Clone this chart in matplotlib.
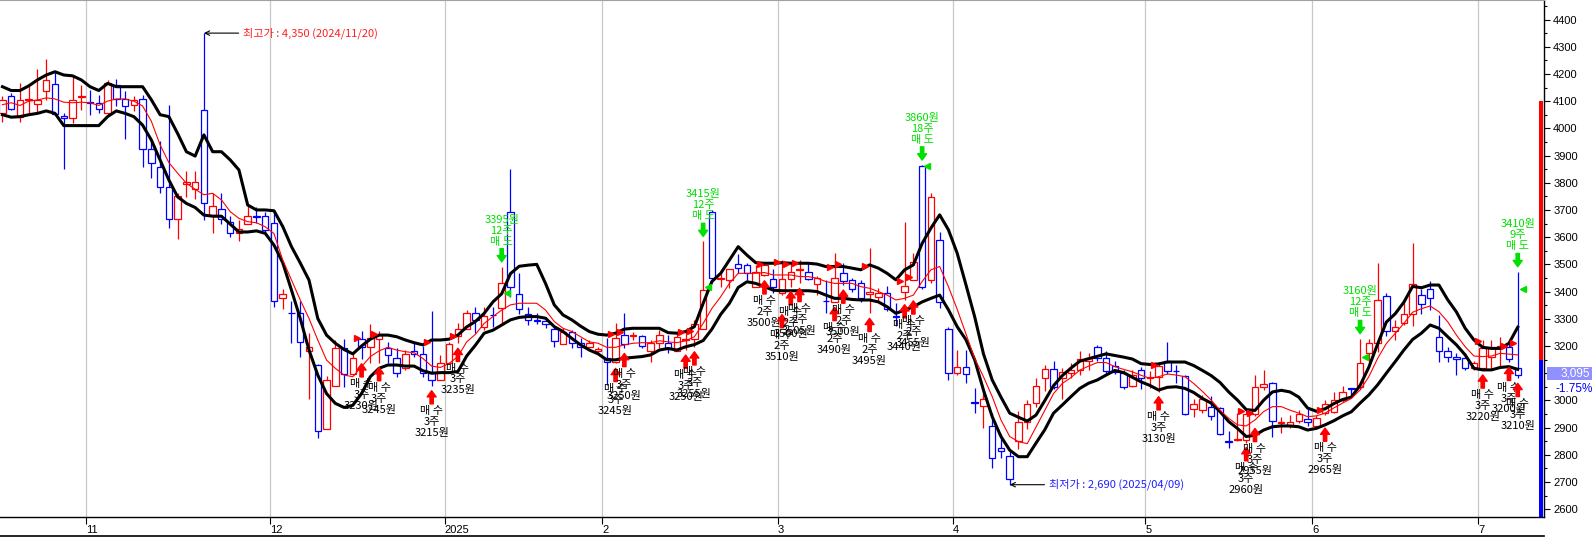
import matplotlib
matplotlib.use('Agg')
import matplotlib.pyplot as plt
from matplotlib.patches import Rectangle
from matplotlib.lines import Line2D
from matplotlib.transforms import offset_copy, blended_transform_factory

plt.rcParams['font.family'] = ['Noto Sans CJK KR', 'DejaVu Sans']

W, H = 1592, 537

# trading days shown per month: Oct 2024 (from 18th) .. Jul 2025 (to 7th)
month_days = [10, 21, 20, 18, 20, 20, 22, 19, 19, 5]
month_labels = ['11', '12', '2025', '2', '3', '4', '5', '6', '7']

opens = [
    4055, 4118, 4040, 4105, 4090, 4139, 4162, 4047, 4037, 4115,                     # Oct
    4096, 4093, 4056, 4160, 4108, 4084, 4108, 3923, 3856, 3785, 3668, 3794, 3776,   # Nov
    4069, 3681, 3702, 3655, 3614, 3648, 3677, 3676,
    3651, 3377, 3323, 3323, 3181, 3131, 2893, 3054, 3191, 3096, 3225, 3195, 3225,   # Dec
    3191, 3154, 3119, 3182, 3172, 3100, 3076,
    3136, 3237, 3262, 3323, 3268, 3315, 3339, 3694, 3390, 3316, 3294, 3292, 3262,   # Jan
    3206, 3252, 3212, 3197, 3182,
    3154, 3140, 3240, 3238, 3237, 3180, 3212, 3212, 3182, 3223, 3224, 3262, 3694,   # Feb
    3447, 3443, 3500, 3496, 3418, 3461, 3447,
    3394, 3447, 3479, 3473, 3427, 3366, 3363, 3467, 3443, 3433, 3390, 3381, 3394,   # Mar
    3309, 3400, 3443, 3861, 3443, 3591, 3264,
    3100, 3124, 2994, 2981, 2906, 2825, 2797, 2850, 2921, 2990, 3084, 3117, 3084,   # Apr
    3101, 3113, 3143, 3196, 3155, 3126, 3101, 3054, 3113,
    3083, 3086, 3143, 3109, 3091, 2968, 2964, 2977, 2971, 2849, 2855, 2855, 2950,   # May
    3048, 3063, 2916, 2904, 2926, 2931,
    2906, 2953, 2959, 3000, 3044, 3050, 3173, 3212, 3384, 3254, 3283, 3319, 3389,   # Jun
    3411, 3234, 3182, 3161, 3155, 3118,
    3118, 3161, 3191, 3195, 3118,                                                   # Jul
]
highs = [
    4118, 4130, 4166, 4155, 4217, 4255, 4209, 4055, 4196, 4160,
    4142, 4123, 4178, 4180, 4136, 4118, 4123, 3952, 3952, 4084, 3764, 3842, 3842,
    4350, 3762, 3762, 3677, 3663, 3715, 3710, 3694,
    3694, 3408, 3364, 3364, 3247, 3135, 3088, 3222, 3225, 3172, 3254, 3281, 3254,
    3215, 3191, 3185, 3215, 3200, 3328, 3166,
    3215, 3286, 3333, 3345, 3345, 3345, 3491, 3850, 3470, 3345, 3320, 3308, 3277,
    3265, 3258, 3229, 3222, 3197,
    3229, 3283, 3320, 3252, 3241, 3222, 3258, 3240, 3252, 3258, 3296, 3584, 3701,
    3467, 3483, 3537, 3504, 3496, 3508, 3482,
    3515, 3509, 3515, 3504, 3456, 3443, 3543, 3504, 3449, 3443, 3561, 3412, 3421,
    3358, 3657, 3541, 3865, 3761, 3620, 3268,
    3186, 3186, 3046, 3040, 2953, 2877, 2819, 2960, 3003, 3084, 3131, 3146, 3120,
    3136, 3182, 3173, 3205, 3180, 3143, 3113, 3113, 3123,
    3107, 3141, 3215, 3131, 3094, 3005, 3021, 3015, 2977, 2888, 2953, 2964, 3094,
    3113, 3068, 2940, 2946, 2966, 2977,
    2946, 3001, 3029, 3053, 3045, 3227, 3227, 3505, 3393, 3296, 3371, 3580, 3411,
    3438, 3314, 3197, 3173, 3173, 3145,
    3222, 3222, 3234, 3216, 3473,
]
lows = [
    4025, 4067, 4022, 4050, 4055, 4105, 4050, 3849, 4018, 4067,
    4050, 4056, 4050, 4081, 3960, 4062, 3858, 3817, 3764, 3632, 3595, 3746, 3742,
    3662, 3614, 3647, 3599, 3584, 3648, 3653, 3614,
    3345, 3336, 3210, 3158, 3004, 2860, 2893, 3054, 3050, 3092, 3153, 3136, 3139,
    3136, 3086, 3113, 3160, 3086, 3054, 3076,
    3136, 3210, 3262, 3249, 3258, 3271, 3277, 3380, 3316, 3277, 3280, 3265, 3197,
    3206, 3191, 3161, 3191, 3171,
    3057, 3136, 3191, 3222, 3194, 3142, 3191, 3173, 3182, 3185, 3197, 3262, 3438,
    3418, 3412, 3470, 3442, 3418, 3458, 3396,
    3389, 3418, 3430, 3443, 3387, 3320, 3360, 3424, 3400, 3363, 3320, 3363, 3327,
    3272, 3370, 3443, 3408, 3430, 3339, 3076,
    3095, 3063, 2955, 2898, 2750, 2788, 2690, 2821, 2896, 2976, 3036, 3040, 3006,
    3084, 3095, 3113, 3143, 3098, 3098, 3040, 3048, 3042,
    3045, 3032, 3098, 3064, 2946, 2938, 2952, 2928, 2872, 2825, 2850, 2845, 2941,
    3038, 2866, 2881, 2897, 2917, 2904,
    2902, 2946, 2953, 2994, 3014, 3043, 3136, 3178, 3235, 3222, 3278, 3273, 3319,
    3332, 3142, 3142, 3093, 3112, 3110,
    3112, 3112, 3124, 3140, 3081,
]
closes = [
    4105, 4070, 4105, 4108, 4104, 4179, 4052, 4037, 4105, 4118,
    4093, 4071, 4166, 4109, 4081, 4105, 3923, 3871, 3785, 3668, 3751, 3804, 3804,
    3724, 3716, 3665, 3614, 3629, 3677, 3674, 3627,
    3364, 3392, 3321, 3214, 3195, 2888, 3076, 3191, 3096, 3154, 3195, 3228, 3240,
    3168, 3100, 3172, 3170, 3100, 3076, 3139,
    3206, 3262, 3323, 3296, 3310, 3313, 3430, 3418, 3335, 3296, 3292, 3281, 3219,
    3252, 3212, 3197, 3210, 3189,
    3140, 3229, 3206, 3241, 3200, 3212, 3240, 3190, 3234, 3226, 3281, 3405, 3449,
    3450, 3483, 3486, 3467, 3473, 3496, 3415,
    3447, 3473, 3482, 3447, 3449, 3364, 3449, 3439, 3409, 3378, 3400, 3396, 3335,
    3307, 3421, 3509, 3415, 3746, 3362, 3100,
    3124, 3096, 2991, 3006, 2788, 2815, 2711, 2921, 2987, 3054, 3117, 3048, 3103,
    3113, 3151, 3155, 3155, 3107, 3103, 3048, 3095, 3084,
    3086, 3127, 3107, 3107, 2950, 2987, 3005, 2944, 2878, 2847, 2857, 2950, 3048,
    3059, 2926, 2922, 2922, 2949, 2920,
    2935, 2987, 3001, 3032, 3042, 3139, 3212, 3370, 3254, 3268, 3319, 3427, 3356,
    3375, 3182, 3158, 3153, 3118, 3136,
    3191, 3191, 3200, 3152, 3095,
]

# envelope lines (upper / lower black, middle red)
upper = [
    4153, 4139, 4139, 4156, 4178, 4196, 4208, 4196, 4193, 4178,
    4153, 4139, 4165, 4153, 4153, 4153, 4153, 4105, 4050, 4043, 3981, 3914, 3898,
    3976, 3914, 3914, 3884, 3847, 3718, 3700, 3700,
    3697, 3639, 3565, 3505, 3442, 3301, 3240, 3210, 3187, 3171, 3200, 3225, 3240,
    3240, 3234, 3222, 3212, 3204, 3222, 3222,
    3225, 3240, 3270, 3290, 3320, 3362, 3392, 3466, 3493, 3497, 3500, 3430, 3351,
    3314, 3296, 3273, 3253, 3243,
    3240, 3247, 3262, 3265, 3265, 3265, 3265, 3249, 3247, 3253, 3271, 3357, 3437,
    3467, 3516, 3565, 3534, 3506, 3504, 3504,
    3506, 3504, 3504, 3504, 3501, 3492, 3492, 3492, 3486, 3480, 3498, 3486, 3467,
    3443, 3480, 3498, 3577, 3633, 3682, 3627,
    3541, 3425, 3307, 3171, 3075, 3012, 2953, 2938, 2924, 2946, 2999, 3054, 3091,
    3119, 3144, 3153, 3162, 3171, 3165, 3159, 3152, 3135,
    3132, 3134, 3141, 3141, 3141, 3128, 3110, 3091, 3066, 3031, 3001, 2966, 2963,
    3001, 3031, 3037, 3031, 3012, 2972,
    2960, 2969, 2988, 3003, 3012, 3055, 3122, 3207, 3288, 3318, 3361, 3419, 3414,
    3424, 3424, 3370, 3325, 3265, 3222,
    3195, 3191, 3191, 3210, 3269,
]
lower = [
    4050, 4041, 4043, 4050, 4055, 4064, 4055, 4010, 4010, 4010,
    4010, 4010, 4043, 4064, 4055, 4043, 4012, 3957, 3884, 3810, 3748, 3724, 3709,
    3681, 3677, 3677, 3648, 3619, 3619, 3623, 3614,
    3571, 3506, 3405, 3301, 3185, 3093, 3025, 2989, 2974, 2982, 3025, 3087, 3118,
    3130, 3130, 3126, 3126, 3109, 3100, 3102,
    3102, 3106, 3163, 3203, 3247, 3258, 3277, 3296, 3305, 3308, 3308, 3302, 3271,
    3253, 3228, 3204, 3185, 3171,
    3149, 3149, 3155, 3158, 3161, 3167, 3185, 3191, 3185, 3197, 3205, 3220, 3262,
    3316, 3357, 3415, 3436, 3430, 3418, 3405,
    3403, 3403, 3403, 3403, 3400, 3387, 3375, 3375, 3371, 3369, 3369, 3362, 3344,
    3320, 3332, 3344, 3362, 3375, 3387, 3333,
    3271, 3223, 3149, 3038, 2940, 2867, 2817, 2793, 2793, 2843, 2892, 2953, 2983,
    3014, 3044, 3063, 3075, 3093, 3110, 3102, 3085, 3068,
    3055, 3038, 3048, 3050, 3044, 3029, 3007, 2990, 2959, 2922, 2897, 2867, 2872,
    2891, 2903, 2906, 2906, 2903, 2891,
    2897, 2910, 2925, 2943, 2958, 2990, 3020, 3057, 3100, 3142, 3185, 3224, 3247,
    3277, 3265, 3234, 3204, 3167, 3118,
    3112, 3112, 3121, 3124, 3114,
]
middle = [
    4087, 4094, 4084, 4100, 4104, 4112, 4108, 4096, 4094, 4096,
    4094, 4084, 4100, 4108, 4108, 4100, 4082, 4026, 3939, 3874, 3835, 3798, 3776,
    3756, 3761, 3737, 3694, 3669, 3657, 3653, 3638,
    3613, 3516, 3442, 3369, 3301, 3222, 3148, 3118, 3093, 3087, 3124, 3161, 3182,
    3195, 3185, 3179, 3175, 3154, 3126, 3121,
    3136, 3161, 3215, 3243, 3283, 3308, 3332, 3351, 3357, 3357, 3357, 3332, 3290,
    3265, 3253, 3234, 3215, 3210,
    3195, 3195, 3204, 3210, 3212, 3212, 3219, 3215, 3212, 3219, 3234, 3283, 3338,
    3381, 3430, 3467, 3467, 3467, 3470, 3461,
    3461, 3461, 3455, 3455, 3449, 3437, 3430, 3430, 3430, 3418, 3412, 3400, 3387,
    3369, 3375, 3387, 3437, 3480, 3492, 3418,
    3335, 3245, 3154, 3087, 3014, 2928, 2867, 2848, 2841, 2902, 2963, 3025, 3062,
    3084, 3111, 3126, 3139, 3139, 3124, 3114, 3105, 3092,
    3081, 3087, 3097, 3093, 3087, 3062, 3033, 3001, 2964, 2934, 2910, 2906, 2928,
    2959, 2977, 2977, 2964, 2953, 2940,
    2943, 2953, 2972, 2990, 3007, 3038, 3087, 3154, 3209, 3246, 3283, 3324, 3337,
    3347, 3326, 3289, 3240, 3197, 3163,
    3161, 3163, 3173, 3170, 3167,
]

# trade signals: (candle index, shares, price)
buys = [(41, 3, 3230), (43, 3, 3245), (49, 3, 3215), (52, 3, 3235),
        (70, 3, 3245), (71, 3, 3250), (78, 3, 3250), (79, 3, 3255),
        (87, 2, 3500), (89, 2, 3510), (90, 2, 3500), (91, 2, 3505),
        (95, 2, 3490), (96, 2, 3500), (99, 2, 3495), (103, 2, 3440),
        (104, 2, 3455), (132, 3, 3130), (142, 3, 2960), (143, 3, 2955),
        (151, 3, 2965), (169, 3, 3220), (172, 3, 3200), (173, 3, 3210)]
sells = [(57, 12, 3395), (80, 12, 3415), (105, 18, 3860), (155, 12, 3160),
         (173, 9, 3410)]

n = len(opens)
assert n == len(highs) == len(lows) == len(closes) == len(upper) == len(lower) == len(middle)

RED = '#ff0000'
BLUE = '#0000ff'
GREEN = '#00e000'

fig = plt.figure(figsize=(W / 100, H / 100), dpi=100)
ax = fig.add_axes([0, 20 / H, 1543.5 / W, 517 / H])
ax.set_xlim(-0.28, 175.94)
ax.set_ylim(2571.3, 4471.7)

# month separators
starts = []
s = 0
for d in month_days[:-1]:
    s += d
    starts.append(s - 0.5)
for x in starts:
    ax.axvline(x, color='#c8c8c8', lw=0.9, zorder=0)

# candles (hollow)
w = 0.74
for i in range(n):
    o, h, l, c = opens[i], highs[i], lows[i], closes[i]
    col = RED if c > o else BLUE
    ax.vlines(i, l, h, color=col, lw=0.9, zorder=2)
    ax.add_patch(Rectangle((i - w / 2, min(o, c)), w, max(abs(c - o), 1.5),
                           facecolor='white', edgecolor=col, lw=0.9, zorder=3))

xs = list(range(n))
ax.plot(xs, upper, color='black', lw=2.2, zorder=4)
ax.plot(xs, lower, color='black', lw=2.2, zorder=4)
ax.plot(xs, middle, color=RED, lw=0.8, zorder=4)

arrow_style = 'simple,head_length=0.45,head_width=0.65,tail_width=0.24'

# buy signals
buy_shift = {89: 15, 104: 16, 143: 7, 151: 8}
for i, qty, price in buys:
    tr = offset_copy(ax.transData, fig=fig, x=0, y=-(5 + buy_shift.get(i, 0)), units='dots')
    ax.annotate('', xy=(i, lows[i]), xycoords=tr, xytext=(0, -9.5), textcoords='offset points',
                arrowprops=dict(arrowstyle=arrow_style, fc=RED, ec=RED, shrinkA=0, shrinkB=0,
                                mutation_scale=10), zorder=6)
    ax.annotate(f'매 수\n{qty}주\n{price}원', xy=(i, lows[i]), xycoords=tr, xytext=(0, -11),
                textcoords='offset points', ha='center', va='top', fontsize=8,
                linespacing=1.12, color='black', zorder=6)
    ax.plot(i - 0.55, price, marker='>', color=RED, ms=4, zorder=6)

# sell signals
for i, qty, price in sells:
    tr = offset_copy(ax.transData, fig=fig, x=0, y=5, units='dots')
    ax.annotate('', xy=(i, highs[i]), xycoords=tr, xytext=(0, 9.5), textcoords='offset points',
                arrowprops=dict(arrowstyle=arrow_style, fc=GREEN, ec=GREEN, shrinkA=0, shrinkB=0,
                                mutation_scale=10), zorder=6)
    ax.annotate(f'{price}원\n{qty}주\n매 도', xy=(i, highs[i]), xycoords=tr, xytext=(0, 11),
                textcoords='offset points', ha='center', va='bottom', fontsize=8,
                linespacing=1.12, color=GREEN, zorder=6)
    ax.plot(i + 0.6, price, marker='<', color=GREEN, ms=4, zorder=6)

# highest / lowest
ax.annotate('최고가 : 4,350 (2024/11/20)', xy=(23, 4350), xytext=(28, 0), textcoords='offset points',
            ha='left', va='center', fontsize=8, color='#ff2020',
            arrowprops=dict(arrowstyle='->', color='black', lw=0.8, shrinkA=1, shrinkB=0))
ax.annotate('최저가 : 2,690 (2025/04/09)', xy=(115, 2690), xytext=(28, 0), textcoords='offset points',
            ha='left', va='center', fontsize=8, color='#2020ff',
            arrowprops=dict(arrowstyle='->', color='black', lw=0.8, shrinkA=1, shrinkB=0))

# axes styling
ax.set_xticks(starts)
ax.set_xticklabels(month_labels, ha='left', fontsize=8, family='Liberation Sans')
ax.tick_params(axis='x', direction='out', length=5, width=0.8, pad=1, colors='black')
ax.yaxis.tick_right()
yticks = list(range(2600, 4401, 100))
ax.set_yticks(yticks)
# the 3100 label sits under the current-price box
ax.set_yticklabels(['' if t == 3100 else str(t) for t in yticks], family='Liberation Sans')
ax.set_yticks(range(2650, 4451, 100), minor=True)
ax.tick_params(axis='y', which='major', direction='out', length=4, width=0.8, pad=3, labelsize=8)
ax.tick_params(axis='y', which='minor', direction='out', length=2.5, width=0.8)
ax.spines['left'].set_visible(False)
ax.spines['top'].set_color('#a0a0a0')
ax.spines['right'].set_linewidth(1.0)
ax.spines['bottom'].set_linewidth(1.0)

# price range bar along the right axis
bt = blended_transform_factory(ax.transAxes, ax.transData)
bx = 1539 / 1543.5
bw = 3.5 / 1543.5
ax.add_patch(Rectangle((bx, 3150), bw, 950, transform=bt, facecolor=RED, lw=0, zorder=5, clip_on=False))
ax.add_patch(Rectangle((bx, 2571.3), bw, 3150 - 2571.3, transform=bt, facecolor=BLUE, lw=0, zorder=5,
                       clip_on=False))

# current price box
def fx(px):
    return px / W

def fy(py):
    return 1 - py / H

fig.add_artist(Rectangle((fx(1547), fy(379.5)), fx(1592) - fx(1547), 12.5 / H,
                         transform=fig.transFigure, facecolor='#9090ff', edgecolor='none'))
fig.text(fx(1575), fy(373.3), '3,095', color='white', ha='center', va='center', fontsize=8.5,
         family='Liberation Sans')
fig.text(fx(1574), fy(389), '-1.75%', color=BLUE, ha='center', va='center', fontsize=8.5,
         family='Liberation Sans')
fig.add_artist(Line2D([0, fx(1543.5)], [fy(536), fy(536)], color='black', lw=1.2,
                      transform=fig.transFigure))

fig.savefig('out.png', dpi=100, facecolor='white')
